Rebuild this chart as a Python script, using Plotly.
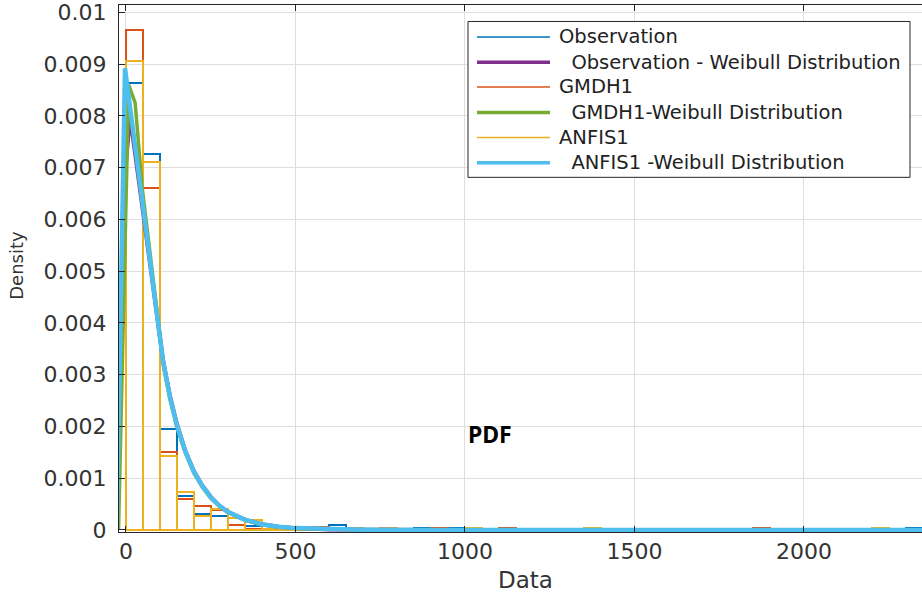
import plotly.graph_objects as go

# ---------------- data ----------------
bin_width = 50
bin_centers = [25 + 50 * i for i in range(47)]  # bins 0-50, 50-100, ... 2300-2350

obs_density = [0.00863, 0.00727, 0.00195, 0.00065, 0.00031, 0.00026, 0.00010, 0.00008, 0.00002, 0,
               0, 0, 0.00009, 0, 0, 0, 0, 0.00004, 0, 0.00004,
               0, 0, 0, 0, 0, 0, 0, 0, 0, 0,
               0, 0, 0, 0, 0, 0, 0, 0, 0, 0,
               0, 0, 0, 0, 0, 0, 0.00004]
gmdh_density = [0.00966, 0.00660, 0.00151, 0.00059, 0.00047, 0.00038, 0.00009, 0.00002, 0, 0,
                0, 0.00005, 0, 0, 0, 0, 0, 0, 0.00004, 0,
                0, 0, 0.00004, 0, 0, 0, 0, 0, 0, 0,
                0, 0, 0, 0, 0, 0, 0, 0.00004, 0, 0,
                0, 0, 0, 0, 0, 0, 0]
anfis_density = [0.00906, 0.00710, 0.00142, 0.00074, 0.00026, 0.00041, 0.00024, 0.00020, 0.00002, 0.00002,
                 0, 0, 0, 0.00004, 0, 0.00004, 0, 0, 0, 0,
                 0.00004, 0, 0, 0, 0, 0, 0, 0.00004, 0, 0,
                 0, 0, 0, 0, 0, 0, 0, 0, 0, 0,
                 0, 0, 0, 0, 0.00004, 0, 0]

obs_wb_x = [-25, -4, 12, 110, 130, 150, 175, 200, 225, 250, 275, 300, 350, 400, 450, 500, 600, 700, 900, 1500, 2400]
obs_wb_y = [0, 0.00680, 0.00800, 0.00325, 0.00258, 0.00205, 0.00153, 0.00114, 0.00086, 0.00064, 0.00047,
            0.00035, 0.00020, 0.00011, 0.00006, 0.000035, 0.00001, 0.000003, 0, 0, 0]

gmdh_wb_x = [-22, 8, 27, 48, 112, 130, 150, 175, 200, 225, 250, 275, 300, 350, 400, 450, 500, 600, 700, 900, 1500, 2400]
gmdh_wb_y = [0, 0.00860, 0.00825, 0.00660, 0.00312, 0.00252, 0.00199, 0.00149, 0.00110, 0.00083, 0.00061,
             0.00046, 0.00034, 0.00019, 0.00010, 0.000055, 0.00003, 0.00001, 0.000003, 0, 0, 0]

anfis_wb_x = [-27, -3, 110, 130, 150, 175, 200, 225, 250, 275, 300, 350, 400, 450, 500, 600, 700, 900, 1500, 2400]
anfis_wb_y = [0, 0.00892, 0.00323, 0.00256, 0.00203, 0.00152, 0.00113, 0.00085, 0.00063, 0.00047,
              0.00035, 0.00020, 0.00011, 0.00006, 0.000035, 0.00001, 0.000003, 0, 0, 0]

x_tick_vals = [0, 500, 1000, 1500, 2000]
x_tick_text = ["0", "500", "1000", "1500", "2000"]
y_tick_vals = [0, 0.001, 0.002, 0.003, 0.004, 0.005, 0.006, 0.007, 0.008, 0.009, 0.01]
y_tick_text = ["0", "0.001", "0.002", "0.003", "0.004", "0.005", "0.006", "0.007", "0.008", "0.009", "0.01"]

legend_labels = ["Observation", "  Observation - Weibull Distribution", "GMDH1",
                 "  GMDH1-Weibull Distribution", "ANFIS1", "  ANFIS1 -Weibull Distribution"]

# ---------------- styling ----------------
C_BLUE, C_ORANGE, C_YELLOW = "#0072BD", "#D95319", "#EDB120"
C_PURPLE, C_GREEN, C_CYAN = "#7E2F8E", "#77AC30", "#4DBEEE"
INK = "#262626"
W, H = 922, 599
L, R, T, B = 119, 0, 5, 66.5
PW, PH = W - L - R, H - T - B


def px(xp):
    return (xp - L) / PW


def py(yp):
    return (H - B - yp) / PH


fig = go.Figure()


def hist(vals, color):
    fig.add_trace(go.Bar(x=bin_centers, y=vals, width=bin_width,
                         marker=dict(color="rgba(0,0,0,0)", line=dict(color=color, width=2)),
                         showlegend=False, hoverinfo="skip"))


def curve(xs, ys, color, w=4.5):
    fig.add_trace(go.Scatter(x=xs, y=ys, mode="lines", line=dict(color=color, width=w),
                             showlegend=False, hoverinfo="skip"))


hist(obs_density, C_BLUE)
curve(obs_wb_x, obs_wb_y, C_PURPLE, 4)
hist(gmdh_density, C_ORANGE)
curve(gmdh_wb_x, gmdh_wb_y, C_GREEN, 3.5)
hist(anfis_density, C_YELLOW)
curve(anfis_wb_x, anfis_wb_y, C_CYAN, 4.5)

tick_font = dict(family="DejaVu Sans", size=22, color="#333333")

fig.update_layout(
    width=W, height=H, margin=dict(l=L, r=R, t=T, b=B),
    paper_bgcolor="white", plot_bgcolor="white",
    barmode="overlay", bargap=0, showlegend=False,
    xaxis=dict(range=[-20.6, 2348.2], tickvals=x_tick_vals, ticktext=x_tick_text,
               showgrid=True, gridcolor="#dedede", gridwidth=1, zeroline=False,
               showline=True, linecolor=INK, linewidth=1, mirror="ticks",
               ticks="inside", ticklen=6, tickcolor=INK, tickfont=tick_font,
               ticklabelstandoff=0),
    yaxis=dict(range=[-0.00004, 0.010143], tickvals=y_tick_vals, ticktext=y_tick_text,
               showgrid=True, gridcolor="#dedede", gridwidth=1, zeroline=False,
               showline=True, linecolor=INK, linewidth=1,
               ticks="inside", ticklen=6, tickcolor=INK, tickfont=tick_font,
               ticklabelstandoff=7),
)

# axis titles
fig.add_annotation(x=px(525), y=py(581), xref="paper", yref="paper", text="Data", showarrow=False,
                   font=dict(family="DejaVu Sans", size=23, color="#333333"), xanchor="center", yanchor="middle")
fig.add_annotation(x=px(17), y=py(266), xref="paper", yref="paper", text="Density", showarrow=False,
                   textangle=-90, font=dict(family="DejaVu Sans", size=18, color="#333333"),
                   xanchor="center", yanchor="middle")

# PDF label
fig.add_annotation(x=px(490), y=py(434), xref="paper", yref="paper", text="<b>PDF</b>", showarrow=False,
                   font=dict(family="Noto Sans", size=23, color="black"), xanchor="center", yanchor="middle")

# legend (drawn as a box with sample lines and text)
fig.add_shape(type="rect", xref="paper", yref="paper", x0=px(468), x1=px(910), y0=py(177.5), y1=py(21.5),
              line=dict(color=INK, width=1), fillcolor="white", layer="above")
leg_colors = [C_BLUE, C_PURPLE, C_ORANGE, C_GREEN, C_YELLOW, C_CYAN]
leg_widths = [1.5, 3.5, 1.5, 3.5, 1.5, 3.5]
leg_rows = [37, 62.3, 87, 112.7, 137.7, 163]
for lab, col, lw, yy in zip(legend_labels, leg_colors, leg_widths, leg_rows):
    fig.add_shape(type="line", xref="paper", yref="paper", x0=px(477), x1=px(550), y0=py(yy), y1=py(yy),
                  line=dict(color=col, width=lw), layer="above")
    fig.add_annotation(x=px(556.5), y=py(yy), xref="paper", yref="paper", text=lab.replace(" ", "&nbsp;"),
                       showarrow=False, xanchor="left", yanchor="middle",
                       font=dict(family="DejaVu Sans", size=19.5, color="#222222"))

fig.write_html("out.html", config={"displayModeBar": False},
               post_script="document.body.style.margin='0';document.body.style.overflow='hidden';")
